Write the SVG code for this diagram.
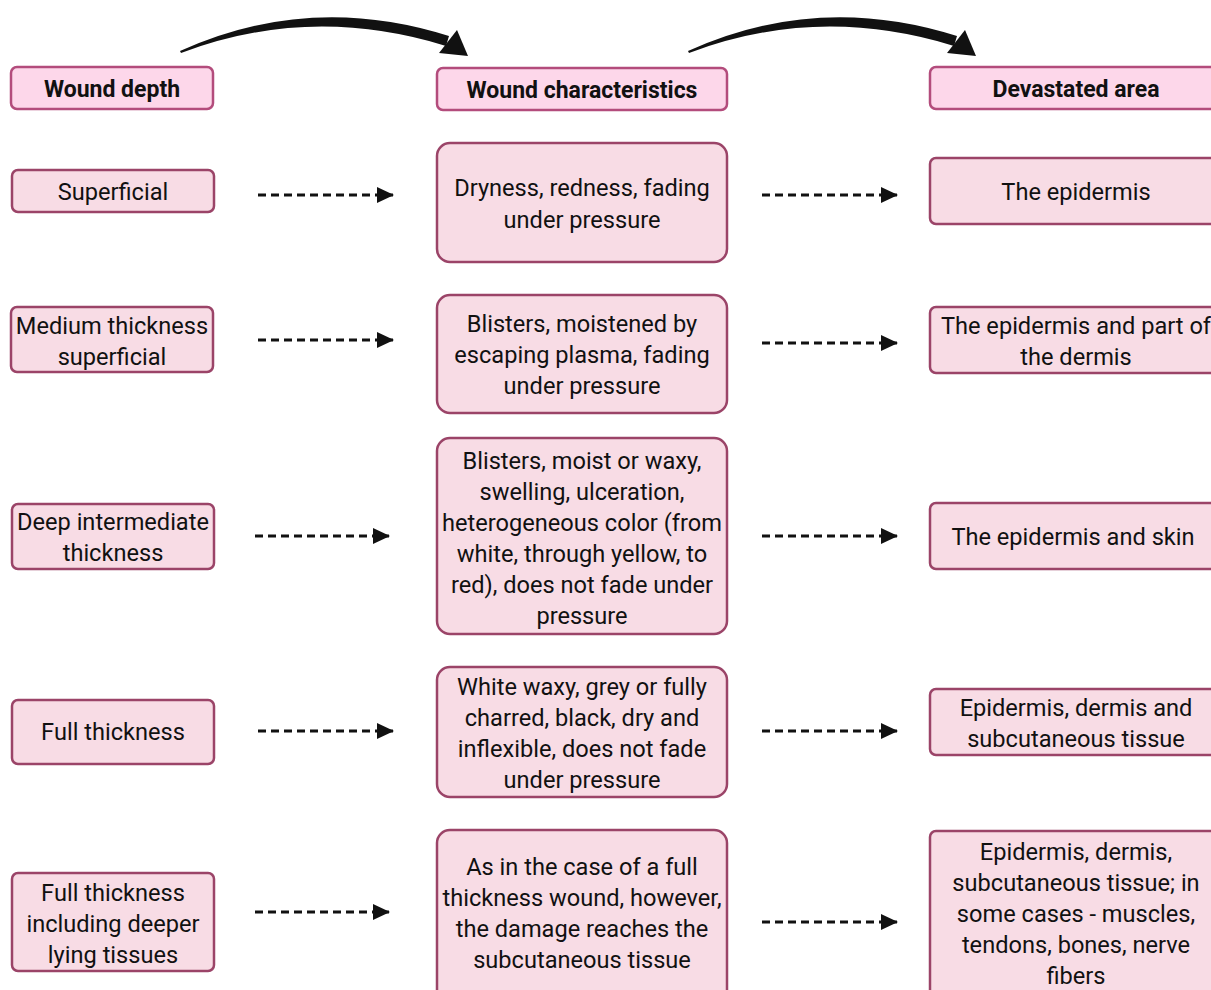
<svg xmlns="http://www.w3.org/2000/svg" width="1211" height="990" viewBox="0 0 1211 990">
<style>
.hdr{fill:#fdd7ea;stroke:#b34c7c;stroke-width:2.5}
.box{fill:#f8dce5;stroke:#9b4468;stroke-width:2.5}
text{font-family:Roboto,"Liberation Sans",sans-serif;font-size:23.6px;fill:#111;text-anchor:middle}
.b{font-weight:bold;font-size:23px}
.dash{stroke:#111;stroke-width:2.8;stroke-dasharray:8 5;fill:none;marker-end:url(#ah)}
</style>
<defs>
<marker id="ah" markerWidth="17" markerHeight="16" refX="16" refY="8" orient="auto" markerUnits="userSpaceOnUse">
<path d="M0,0 L17,8 L0,16 Z" fill="#111"/>
</marker>
</defs>
<rect width="1211" height="990" fill="#fff"/>
<g id="connectors">
<path d="M180,51 Q310,-8 449,36 L446,46 Q310,4 181,53 Z" fill="#111"/>
<path d="M439,53 L457,30 L468,56 Z" fill="#111"/>
<path d="M688,51 Q818,-8 957,36 L954,46 Q818,4 689,53 Z" fill="#111"/>
<path d="M947,53 L965,30 L976,56 Z" fill="#111"/>
<path class="dash" d="M258,195 H393"/>
<path class="dash" d="M258,340 H393"/>
<path class="dash" d="M255,536 H389"/>
<path class="dash" d="M258,731 H393"/>
<path class="dash" d="M255,912 H389"/>
<path class="dash" d="M762,195 H897"/>
<path class="dash" d="M762,343 H897"/>
<path class="dash" d="M762,536 H897"/>
<path class="dash" d="M762,731 H897"/>
<path class="dash" d="M762,922 H897"/>
</g>
<g id="h-depth"><rect class="hdr" x="11" y="67" width="202" height="42" rx="6"/><text class="b" x="112" y="97">Wound depth</text></g>
<g id="h-char"><rect class="hdr" x="437" y="68" width="290" height="42" rx="6"/><text class="b" x="582" y="98">Wound characteristics</text></g>
<g id="h-area"><rect class="hdr" x="930" y="67" width="290" height="42" rx="6"/><text class="b" x="1076" y="97">Devastated area</text></g>

<g id="d1"><rect class="box" x="12" y="170" width="202" height="42" rx="6"/><text x="113" y="200">Superficial</text></g>
<g id="d2"><rect class="box" x="11" y="307" width="202" height="65" rx="6"/><text x="112" y="334">Medium thickness</text><text x="112" y="365">superficial</text></g>
<g id="d3"><rect class="box" x="12" y="504" width="202" height="65" rx="6"/><text x="113" y="530">Deep intermediate</text><text x="113" y="561">thickness</text></g>
<g id="d4"><rect class="box" x="12" y="700" width="202" height="64" rx="6"/><text x="113" y="740">Full thickness</text></g>
<g id="d5"><rect class="box" x="12" y="873" width="202" height="98" rx="6"/><text x="113" y="901">Full thickness</text><text x="113" y="932">including deeper</text><text x="113" y="963">lying tissues</text></g>

<g id="c1"><rect class="box" x="437" y="143" width="290" height="119" rx="13"/><text x="582" y="196">Dryness, redness, fading</text><text x="582" y="228">under pressure</text></g>
<g id="c2"><rect class="box" x="437" y="295" width="290" height="118" rx="13"/><text x="582" y="332">Blisters, moistened by</text><text x="582" y="363">escaping plasma, fading</text><text x="582" y="394">under pressure</text></g>
<g id="c3"><rect class="box" x="437" y="438" width="290" height="196" rx="13"/><text x="582" y="469">Blisters, moist or waxy,</text><text x="582" y="500">swelling, ulceration,</text><text x="582" y="531">heterogeneous color (from</text><text x="582" y="562">white, through yellow, to</text><text x="582" y="593">red), does not fade under</text><text x="582" y="624">pressure</text></g>
<g id="c4"><rect class="box" x="437" y="667" width="290" height="130" rx="13"/><text x="582" y="695">White waxy, grey or fully</text><text x="582" y="726">charred, black, dry and</text><text x="582" y="757">inflexible, does not fade</text><text x="582" y="788">under pressure</text></g>
<g id="c5"><rect class="box" x="437" y="830" width="290" height="175" rx="13"/><text x="582" y="875">As in the case of a full</text><text x="582" y="906">thickness wound, however,</text><text x="582" y="937">the damage reaches the</text><text x="582" y="968">subcutaneous tissue</text></g>

<g id="a1"><rect class="box" x="930" y="158" width="290" height="66" rx="6"/><text x="1076" y="200">The epidermis</text></g>
<g id="a2"><rect class="box" x="930" y="307" width="290" height="66" rx="6"/><text x="1076" y="334">The epidermis and part of</text><text x="1076" y="365">the dermis</text></g>
<g id="a3"><rect class="box" x="930" y="503" width="290" height="66" rx="6"/><text x="1073" y="545">The epidermis and skin</text></g>
<g id="a4"><rect class="box" x="930" y="689" width="290" height="66" rx="6"/><text x="1076" y="716">Epidermis, dermis and</text><text x="1076" y="747">subcutaneous tissue</text></g>
<g id="a5"><rect class="box" x="930" y="831" width="290" height="175" rx="6"/><text x="1076" y="860">Epidermis, dermis,</text><text x="1076" y="891">subcutaneous tissue; in</text><text x="1076" y="922">some cases - muscles,</text><text x="1076" y="953">tendons, bones, nerve</text><text x="1076" y="984">fibers</text></g>
</svg>
